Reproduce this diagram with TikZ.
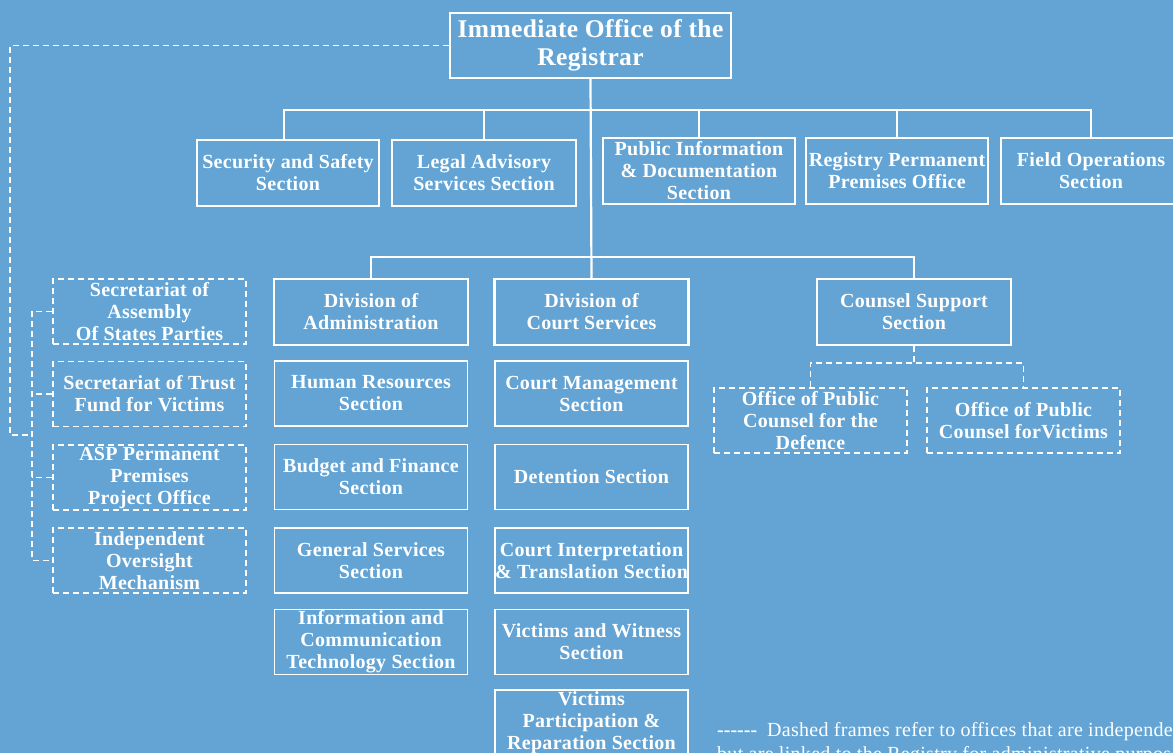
\documentclass[tikz,border=0pt]{standalone}
\usepackage{fontspec}
\setmainfont{Liberation Serif}[LetterSpace=1.5]
\usetikzlibrary{calc}
\definecolor{chartblue}{RGB}{99,164,212}
\tikzset{
	office/.style={draw=white, line width=2.4pt, text=white, align=center, inner sep=0pt,
		minimum width=193pt, minimum height=65pt, font=\bfseries\fontsize{20}{22}\selectfont},
	section/.style={office, line width=1.5pt},
	linked/.style={office, line width=1.4pt, dash pattern=on 6pt off 4pt},
	link/.style={draw=white, line width=2.2pt},
	dashlink/.style={draw=white, line width=1.4pt, dash pattern=on 6pt off 4pt},
}

\begin{document}
\begin{tikzpicture}[x=1pt, y=-1pt]
			%%%%% START %%%%%
			
			\fill[chartblue] (0, 0) rectangle (1173, 753);
			\useasboundingbox (0, 0) rectangle (1173, 753);
			
			\node[office, minimum width=281pt, font=\bfseries\fontsize{25.5}{28}\selectfont] (reg) at (590.5, 45.5) {Immediate Office of the\\Registrar};
			
			\node[office, minimum width=182pt, minimum height=66pt] (sec) at (288, 173) {Security and Safety\\Section};
			\node[office, minimum width=184pt, minimum height=66pt] (legal) at (484, 173) {Legal Advisory\\Services Section};
			\node[office, minimum width=192pt, minimum height=66pt] (pubinfo) at (699, 171) {Public Information\\\& Documentation\\Section};
			\node[office, minimum width=182pt, minimum height=66pt] (rppo) at (897, 171) {Registry Permanent\\Premises Office};
			\node[office, minimum width=180pt, minimum height=66pt] (fieldops) at (1091, 171) {Field Operations\\Section};
			
			\node[office, minimum width=194pt, minimum height=66pt] (divadm) at (371, 312) {Division of\\Administration};
			\node[office, minimum width=194pt, minimum height=66pt] (divcs) at (591.5, 312) {Division of\\Court Services};
			\node[office, minimum width=194pt, minimum height=66pt] (css) at (914, 312) {Counsel Support\\Section};
			
			\node[section] (hr) at (371, 393.5) {Human Resources\\Section};
			\node[section] (bud) at (371, 477) {Budget and Finance\\Section};
			\node[section] (gen) at (371, 560.5) {General Services\\Section};
			\node[section] (ict) at (371, 642) {Information and\\Communication\\Technology Section};
			
			\node[section] (cm) at (591.5, 393.5) {Court Management\\Section};
			\node[section] (det) at (591.5, 477) {Detention Section};
			\node[section] (cit) at (591.5, 560.5) {Court Interpretation\\\& Translation Section};
			\node[section] (vw) at (591.5, 642) {Victims and Witness\\Section};
			\node[section, minimum height=66pt] (vpr) at (591.5, 723) {Victims\\Participation \&\\Reparation Section};
			
			\node[linked] (opcd) at (810.5, 420.5) {Office of Public\\Counsel for the\\Defence};
			\node[linked] (opcv) at (1023.5, 420.5) {Office of Public\\Counsel forVictims};
			
			\node[linked] (sasp) at (149.5, 311.5) {Secretariat of\\Assembly\\Of States Parties};
			\node[linked] (stfv) at (149.5, 394) {Secretariat of Trust\\Fund for Victims};
			\node[linked] (aspo) at (149.5, 477.5) {ASP Permanent\\Premises\\Project Office};
			\node[linked] (iom) at (149.5, 560.5) {Independent\\Oversight\\Mechanism};
			
			% solid links
			\coordinate (bus1) at (590.5, 110);
			\coordinate (bus2) at (590.5, 257);
			\draw[link] (reg.south) -- (divcs.north);
			\draw[link] (sec.north -| 284, 0) |- (bus1) -| (fieldops.north);
			\draw[link] (legal.north) -- (legal.north |- bus1);
			\draw[link] (pubinfo.north) -- (pubinfo.north |- bus1);
			\draw[link] (rppo.north) -- (rppo.north |- bus1);
			\draw[link] (divadm.north) |- (bus2) -| (css.north);
			
			% dashed links
			\coordinate (cbus) at (914, 363);
			\draw[dashlink] (css.south) -- (cbus);
			\draw[dashlink] (opcd.north) |- (cbus) -| (opcv.north);
			
			\coordinate (lbus) at (32, 311);
			\coordinate (lcorner) at (10, 435);
			\draw[dashlink] (sasp.west) -| (lbus |- iom.west) -- (iom.west);
			\draw[dashlink] (stfv.west) -- (stfv.west -| lbus);
			\draw[dashlink] (aspo.west) -- (aspo.west -| lbus);
			\draw[dashlink] (reg.west) -| (lcorner) -- (lcorner -| lbus);
			
			% legend
			\node[text=white, align=left, anchor=north west, inner sep=0pt, font=\fontsize{20}{24}\selectfont] (note) at (717, 722)
				{\textbf{\mbox{-}\mbox{-}\mbox{-}\mbox{-}\mbox{-}\mbox{-}}\hspace{0.5em}Dashed frames refer to offices that are independent\\but are linked to the Registry for administrative purposes};
			
			%%%%% END %%%%%
		\end{tikzpicture}
\end{document}
